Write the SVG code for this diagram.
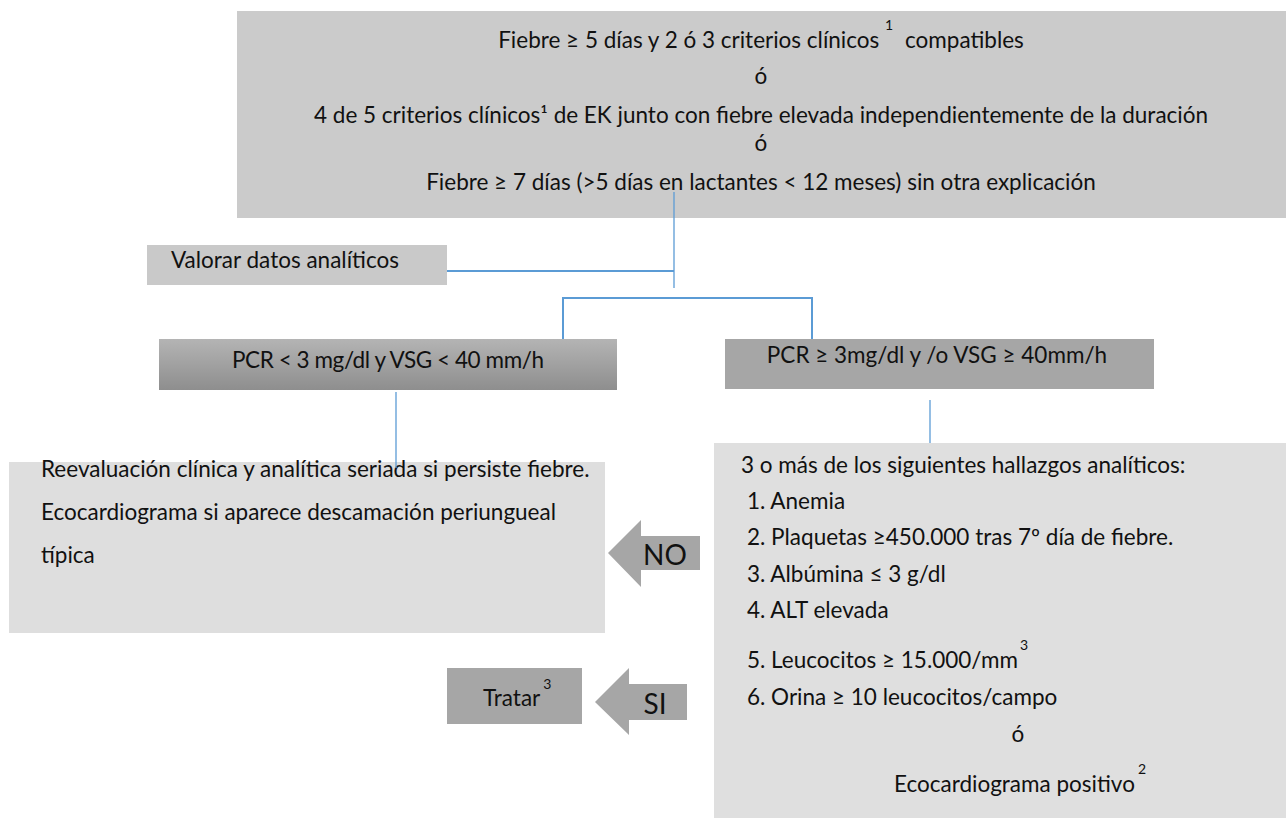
<svg xmlns="http://www.w3.org/2000/svg" width="1286" height="818" viewBox="0 0 1286 818">
<defs>
<linearGradient id="gradPcr" x1="0" y1="0" x2="0" y2="1">
<stop offset="0" stop-color="#b4b4b4"/>
<stop offset="1" stop-color="#8e8e8e"/>
</linearGradient>
<style>
text{font-family:Lato,"Open Sans","Liberation Sans",sans-serif;font-size:22.5px;fill:#111}
.c{text-anchor:middle}
.sup{font-size:14px}
.big{font-size:28px}
.conn{stroke:#5b9bd5;fill:none;stroke-width:1.3}
.thick{stroke-width:2}
.arrow{fill:#a6a6a6}
</style>
</defs>
<rect width="1286" height="818" fill="#ffffff"/>

<g id="top-criteria">
<rect x="237" y="11" width="1049" height="207" fill="#cbcbcb"/>
<text class="c" x="761" y="48">Fiebre ≥ 5 días y 2 ó 3 criterios clínicos <tspan class="sup" dy="-18">1</tspan><tspan dx="6" dy="18"> compatibles</tspan></text>
<text class="c" x="761" y="84">ó</text>
<text class="c" x="761" y="123">4 de 5 criterios clínicos¹ de EK junto con fiebre elevada independientemente de la duración</text>
<text class="c" x="761" y="151">ó</text>
<text class="c" x="761" y="190">Fiebre ≥ 7 días (&gt;5 días en lactantes &lt; 12 meses) sin otra explicación</text>
</g>

<g id="valorar">
<rect x="147" y="245" width="300" height="40" fill="#c9c9c9"/>
<text x="171" y="268">Valorar datos analíticos</text>
</g>

<g id="pcr-low">
<rect x="159" y="339" width="458" height="51" fill="url(#gradPcr)"/>
<text class="c" x="388" y="368" textLength="312">PCR &lt; 3 mg/dl y VSG &lt; 40 mm/h</text>
</g>

<g id="pcr-high">
<rect x="725" y="339" width="429" height="50" fill="#a6a6a6"/>
<text class="c" x="937" y="363">PCR ≥ 3mg/dl y /o VSG ≥ 40mm/h</text>
</g>

<g id="reevaluacion">
<rect x="9" y="462" width="596" height="171" fill="#dedede"/>
<text x="41" y="477">Reevaluación clínica y analítica seriada si persiste fiebre.</text>
<text x="41" y="520">Ecocardiograma si aparece descamación periungueal</text>
<text x="41" y="563">típica</text>
</g>

<g id="hallazgos">
<rect x="714" y="443" width="572" height="375" fill="#dfdfdf"/>
<text x="741" y="473">3 o más de los siguientes hallazgos analíticos:</text>
<text x="747" y="509">1. Anemia</text>
<text x="747" y="545">2. Plaquetas ≥450.000 tras 7º día de fiebre.</text>
<text x="747" y="582">3. Albúmina ≤ 3 g/dl</text>
<text x="747" y="618">4. ALT elevada</text>
<text x="747" y="668">5. Leucocitos ≥ 15.000/mm<tspan class="sup" dx="2" dy="-18">3</tspan></text>
<text x="747" y="705">6. Orina ≥ 10 leucocitos/campo</text>
<text class="c" x="1018" y="742">ó</text>
<text x="894" y="792">Ecocardiograma positivo<tspan class="sup" dx="3" dy="-18">2</tspan></text>
</g>

<g id="tratar">
<rect x="447" y="668" width="135" height="56" fill="#a6a6a6"/>
<text x="483" y="706">Tratar<tspan class="sup" dx="3" dy="-17">3</tspan></text>
</g>

<g id="arrow-no">
<polygon class="arrow" points="608,553 641,520 641,536 700,536 700,570 641,570 641,587"/>
<text class="c big" x="665" y="565">NO</text>
</g>

<g id="arrow-si">
<polygon class="arrow" points="595,702 629,668 629,684 687,684 687,720 629,720 629,735"/>
<text class="c big" x="655" y="714">SI</text>
</g>

<g id="connectors">
<line class="conn" x1="674" y1="192" x2="674" y2="288"/>
<line class="conn thick" x1="447" y1="271" x2="674" y2="271"/>
<polyline class="conn thick" points="563,339 563,298 812,298 812,339"/>
<line class="conn" x1="396" y1="392" x2="396" y2="468"/>
<line class="conn" x1="930" y1="400" x2="930" y2="443"/>
</g>
</svg>
